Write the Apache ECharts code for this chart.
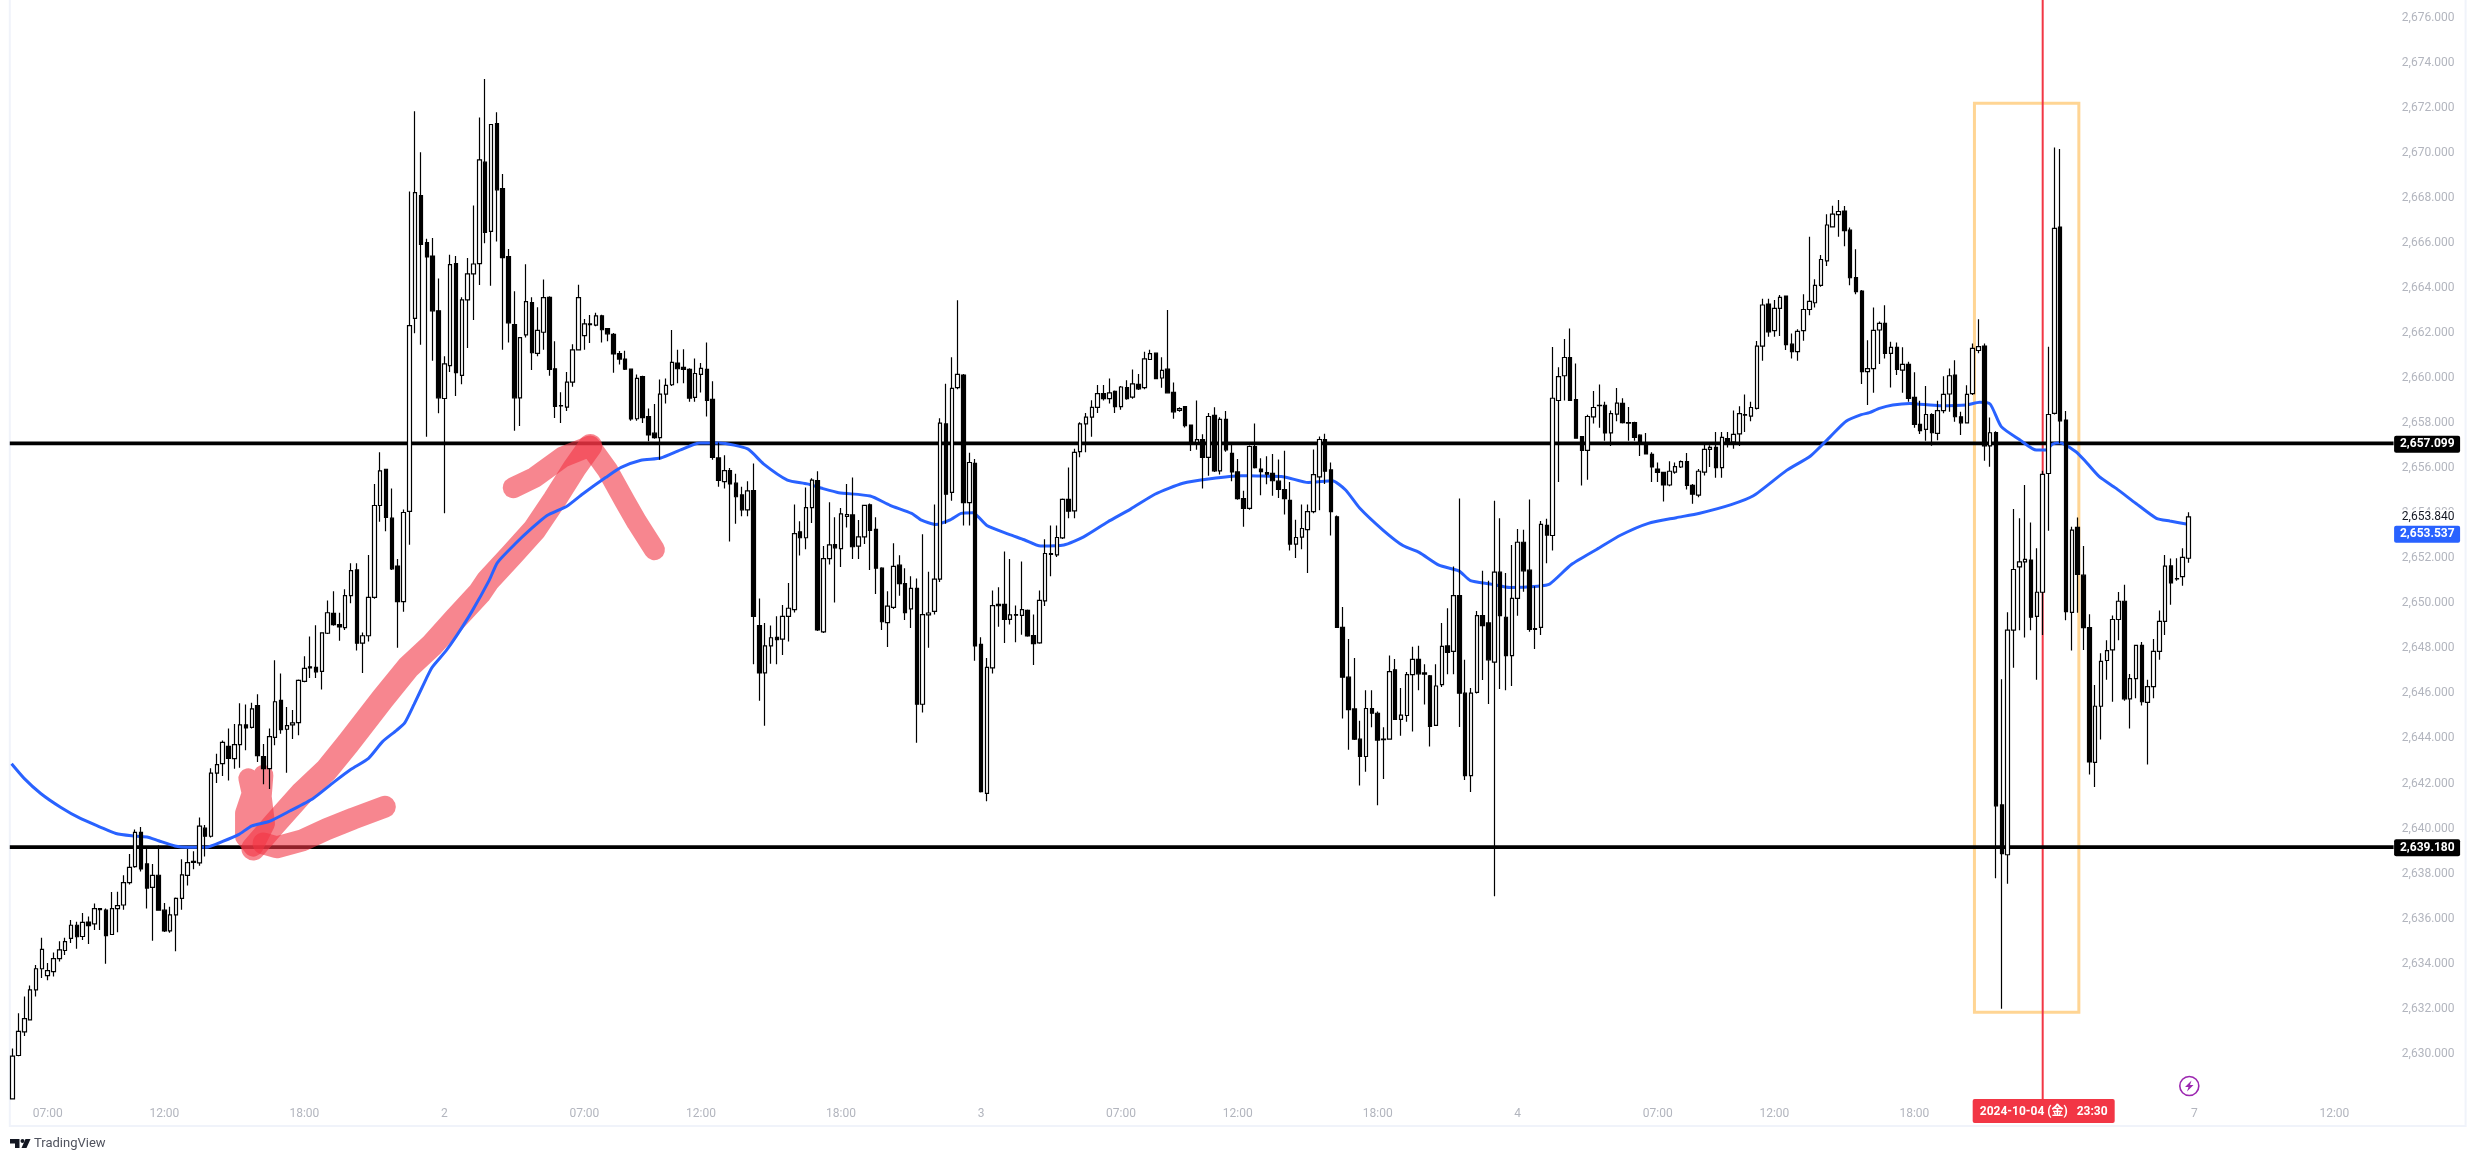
<!DOCTYPE html>
<html>
<head>
<meta charset="utf-8">
<style>
  html, body { margin: 0; padding: 0; background: #fff; }
  #chart { width: 2475px; height: 1162px; }
</style>
<script src="https://cdn.jsdelivr.net/npm/echarts@6/dist/echarts.min.js"></script>
</head>
<body>
<div id="chart"></div>
<script>
// 15 minute bars: [open, close, low, high]
var candles = [
  [2628.0,2629.9,2628.0,2630.24],[2629.93,2631.0,2629.9,2631.8],[2630.98,2631.57,2630.8,2632.55],[2631.51,2632.84,2631.5,2633.04],
  [2632.84,2633.78,2632.55,2633.95],[2633.78,2634.64,2633.37,2635.16],[2633.47,2633.7,2633.27,2634.03],[2633.65,2634.23,2633.44,2634.5],
  [2634.23,2634.62,2634.1,2635.0],[2634.59,2634.98,2634.39,2635.16],[2635.13,2635.71,2634.92,2635.94],[2635.71,2635.2,2634.67,2635.87],
  [2635.21,2635.84,2635.05,2636.25],[2635.85,2635.69,2634.88,2636.1],[2635.77,2636.45,2635.5,2636.67],[2636.45,2636.4,2635.5,2636.47],
  [2636.38,2635.25,2634.0,2636.45],[2635.3,2636.45,2635.3,2637.19],[2636.45,2636.58,2635.4,2637.2],[2636.61,2637.6,2636.4,2637.93],
  [2637.6,2638.28,2637.52,2638.87],[2638.31,2639.83,2638.26,2639.96],[2639.83,2638.21,2638.1,2640.07],[2638.43,2637.36,2636.45,2639.09],
  [2637.39,2637.92,2635.02,2638.43],[2637.93,2636.38,2636.37,2639.25],[2636.38,2635.46,2635.41,2636.7],[2635.46,2636.17,2635.38,2636.53],
  [2636.17,2636.9,2634.56,2636.94],[2636.9,2637.95,2636.4,2638.64],[2637.92,2638.49,2637.47,2639.09],[2638.5,2638.55,2638.2,2639.0],
  [2638.48,2640.11,2638.35,2640.49],[2640.02,2639.66,2638.76,2640.16],[2639.66,2642.46,2639.6,2642.68],[2642.46,2642.84,2642.02,2643.32],
  [2642.88,2643.83,2642.33,2643.91],[2643.65,2643.12,2642.13,2644.44],[2643.11,2643.73,2642.66,2644.64],[2643.73,2644.6,2642.7,2645.56],
  [2644.6,2644.47,2643.48,2645.51],[2644.49,2645.31,2644.44,2645.59],[2645.46,2643.24,2642.96,2645.96],[2643.2,2642.66,2641.97,2643.75],
  [2642.66,2644.08,2641.76,2644.44],[2644.05,2645.63,2643.7,2647.47],[2645.69,2644.39,2644.21,2646.88],[2644.41,2644.57,2642.48,2645.4],
  [2644.6,2644.69,2643.98,2645.26],[2644.7,2646.58,2644.14,2646.62],[2646.53,2647.11,2646.5,2647.65],[2647.18,2647.13,2646.68,2648.53],
  [2647.16,2646.96,2646.68,2649.02],[2646.98,2648.69,2646.17,2648.72],[2648.67,2649.58,2648.64,2650.12],[2649.55,2649.05,2649.0,2650.54],
  [2649.05,2648.95,2648.34,2649.58],[2648.92,2650.34,2648.81,2650.62],[2650.34,2651.45,2650.0,2651.78],[2651.48,2648.23,2647.9,2651.78],
  [2648.23,2648.56,2646.91,2648.7],[2648.56,2650.26,2648.3,2652.14],[2650.26,2654.34,2650.2,2655.29],[2654.34,2655.88,2653.62,2656.7],
  [2655.95,2653.81,2653.2,2655.95],[2653.78,2651.53,2651.48,2655.1],[2651.65,2650.07,2648.03,2651.97],[2650.07,2654.03,2649.63,2654.16],
  [2654.08,2662.32,2652.6,2668.28],[2662.65,2668.23,2661.99,2671.84],[2668.1,2665.93,2661.47,2670.02],[2666.01,2665.37,2657.39,2666.18],
  [2665.41,2662.98,2660.76,2666.21],[2662.98,2659.12,2658.43,2664.42],[2659.09,2660.63,2654.0,2660.97],[2660.55,2665.03,2660.27,2665.47],
  [2665.08,2660.24,2659.2,2665.41],[2660.12,2663.47,2659.72,2663.58],[2663.47,2664.62,2661.33,2665.33],[2664.62,2665.06,2662.57,2667.66],
  [2665.08,2669.68,2664.13,2671.56],[2669.58,2666.46,2665.98,2673.27],[2666.51,2671.25,2664.09,2671.25],[2671.29,2668.35,2666.06,2671.79],
  [2668.41,2665.34,2661.25,2669.05],[2665.39,2662.45,2661.58,2665.72],[2662.37,2659.12,2657.66,2663.85],[2659.12,2661.79,2657.87,2661.79],
  [2661.91,2663.39,2661.8,2665.05],[2663.35,2661.12,2660.35,2663.58],[2661.09,2662.11,2660.97,2663.14],[2662.03,2663.57,2661.25,2664.37],
  [2663.58,2660.38,2660.1,2663.63],[2660.41,2658.74,2658.22,2661.63],[2658.76,2658.78,2658.0,2659.37],[2658.71,2659.82,2658.54,2660.27],
  [2659.82,2661.25,2659.61,2661.5],[2661.25,2663.57,2661.25,2664.14],[2661.88,2662.4,2661.25,2662.62],[2662.37,2662.4,2661.55,2662.8],
  [2662.35,2662.76,2662.3,2662.9],[2662.76,2662.14,2661.58,2662.81],[2662.19,2661.96,2661.63,2662.2],[2661.94,2661.07,2660.23,2662.0],
  [2661.08,2660.84,2660.6,2661.2],[2660.84,2660.39,2660.35,2661.21],[2660.39,2658.18,2658.1,2660.4],[2658.19,2659.98,2658.1,2660.15],
  [2660.06,2658.24,2658.0,2660.1],[2658.29,2657.47,2657.19,2658.65],[2657.55,2657.35,2657.3,2658.85],[2657.35,2659.28,2656.37,2659.93],
  [2659.28,2659.67,2658.87,2659.98],[2659.7,2660.69,2659.65,2662.13],[2660.66,2660.41,2659.77,2661.25],[2660.47,2660.38,2659.77,2661.28],
  [2660.38,2659.11,2658.95,2660.43],[2659.14,2660.2,2658.95,2660.87],[2660.16,2660.43,2659.36,2660.67],[2660.38,2659.0,2658.29,2661.57],
  [2659.05,2656.48,2656.37,2659.85],[2656.45,2655.45,2655.17,2657.14],[2655.4,2655.89,2655.09,2656.57],[2655.89,2655.3,2652.74,2656.0],
  [2655.33,2654.73,2653.53,2655.75],[2654.81,2654.15,2653.86,2655.17],[2654.15,2654.99,2653.86,2655.42],[2655.0,2649.42,2647.29,2656.2],
  [2649.01,2646.91,2645.68,2650.21],[2646.91,2648.11,2644.56,2649.13],[2648.11,2648.47,2647.32,2649.01],[2648.49,2648.39,2647.29,2649.42],
  [2648.41,2649.42,2647.7,2649.92],[2649.42,2649.78,2648.3,2650.9],[2649.72,2653.09,2649.59,2654.38],[2653.17,2652.91,2652.12,2653.64],
  [2652.91,2654.25,2652.4,2655.14],[2654.25,2655.47,2653.56,2655.55],[2655.45,2648.82,2648.77,2655.86],[2648.73,2651.98,2648.68,2652.54],
  [2651.98,2652.59,2651.72,2654.48],[2652.61,2652.46,2650.03,2653.82],[2652.43,2653.97,2651.61,2654.23],[2653.86,2653.94,2653.36,2655.29],
  [2653.92,2652.51,2651.97,2655.58],[2652.54,2652.95,2651.97,2653.7],[2652.95,2654.35,2652.63,2654.35],[2654.37,2653.23,2651.48,2654.43],
  [2653.28,2651.56,2650.41,2653.82],[2651.56,2649.18,2648.82,2651.6],[2649.14,2649.87,2648.06,2650.54],[2649.82,2651.64,2649.75,2652.66],
  [2651.69,2650.87,2650.33,2652.13],[2650.87,2649.59,2649.26,2651.56],[2649.75,2650.66,2648.9,2651.2],[2650.66,2645.52,2643.81,2651.1],
  [2645.52,2649.5,2645.15,2653.07],[2649.49,2649.57,2648.03,2651.4],[2649.64,2651.07,2649.5,2654.38],[2651.07,2658.0,2650.95,2658.21],
  [2657.96,2654.84,2653.53,2659.74],[2654.92,2659.54,2654.55,2660.92],[2659.57,2660.16,2659.5,2663.45],[2660.13,2654.47,2653.45,2660.18],
  [2654.47,2656.25,2653.45,2656.68],[2656.21,2648.11,2647.45,2656.4],[2648.18,2641.64,2641.6,2648.49],[2641.56,2647.16,2641.21,2647.57],
  [2647.13,2649.9,2646.88,2650.57],[2649.95,2649.89,2648.96,2650.71],[2649.95,2649.29,2648.24,2652.3],[2649.29,2649.49,2649.06,2651.97],
  [2649.5,2649.47,2648.27,2649.9],[2649.46,2649.72,2648.6,2651.85],[2649.69,2648.55,2648.52,2649.72],[2648.57,2648.21,2647.26,2649.5],
  [2648.24,2650.13,2648.2,2650.57],[2650.11,2652.21,2649.88,2652.84],[2652.21,2652.17,2651.2,2653.45],[2652.15,2652.92,2652.05,2653.45],
  [2652.9,2654.61,2652.85,2654.65],[2654.61,2654.09,2653.77,2656.03],[2654.1,2656.7,2653.77,2656.86],[2656.73,2657.96,2656.48,2658.04],
  [2657.96,2658.26,2656.7,2658.45],[2658.26,2658.7,2657.39,2659.01],[2658.7,2659.31,2658.45,2659.69],[2659.31,2659.08,2659.0,2659.69],
  [2659.08,2659.34,2658.87,2659.98],[2659.41,2658.73,2658.45,2659.44],[2658.73,2659.6,2658.59,2659.65],[2659.57,2659.08,2659.03,2659.9],
  [2659.15,2659.74,2659.08,2660.38],[2659.72,2659.52,2659.47,2660.18],[2659.57,2660.85,2659.5,2661.17],[2660.82,2661.08,2660.8,2661.25],
  [2661.1,2659.97,2659.95,2661.12],[2660.0,2660.34,2659.57,2660.92],[2660.39,2659.34,2659.31,2663.02],[2659.36,2658.5,2658.19,2659.8],
  [2658.56,2658.64,2658.5,2658.7],[2658.73,2657.88,2657.8,2658.75],[2657.91,2657.14,2656.76,2657.94],[2657.14,2657.26,2656.81,2659.0],
  [2657.27,2656.48,2655.09,2657.5],[2656.48,2658.29,2655.66,2658.45],[2658.34,2655.88,2655.83,2658.7],[2655.88,2658.16,2655.72,2658.26],
  [2658.16,2656.81,2656.73,2658.54],[2656.65,2655.83,2655.42,2657.03],[2655.83,2654.65,2654.6,2656.4],[2654.65,2654.21,2653.4,2655.0],
  [2654.21,2656.96,2654.15,2657.0],[2656.96,2656.02,2655.98,2657.98],[2655.96,2655.84,2654.8,2656.44],[2655.8,2655.73,2655.28,2656.53],
  [2655.77,2655.44,2654.77,2656.63],[2655.42,2655.05,2654.67,2656.38],[2655.05,2654.65,2653.94,2656.77],[2654.57,2652.63,2652.34,2655.38],
  [2652.63,2652.92,2652.01,2653.71],[2652.94,2653.32,2652.4,2654.38],[2653.27,2654.07,2651.34,2654.38],[2654.07,2655.71,2654.0,2656.83],
  [2655.61,2657.27,2654.13,2657.4],[2657.27,2655.86,2655.3,2657.52],[2655.92,2654.07,2653.01,2656.25],[2653.84,2648.93,2648.9,2653.9],
  [2648.93,2646.72,2644.89,2649.84],[2646.72,2645.28,2643.5,2648.41],[2645.31,2643.97,2643.93,2647.57],[2643.97,2643.2,2641.91,2644.79],
  [2643.2,2645.33,2642.52,2646.14],[2645.33,2645.12,2644.5,2646.14],[2645.12,2643.93,2641.04,2645.2],[2643.97,2643.95,2642.2,2644.5],
  [2643.97,2646.97,2643.95,2647.68],[2647.05,2644.85,2644.83,2647.53],[2644.85,2645.04,2644.12,2646.24],[2645.02,2646.83,2644.74,2646.95],
  [2646.83,2647.51,2644.31,2648.07],[2647.51,2646.87,2646.14,2648.12],[2646.91,2646.86,2645.51,2647.3],[2646.78,2644.54,2643.64,2646.82],
  [2644.58,2646.33,2644.55,2647.3],[2646.39,2648.09,2646.28,2649.13],[2648.11,2647.82,2646.85,2649.78],[2647.87,2650.34,2646.85,2651.63],
  [2650.34,2646.01,2644.51,2654.65],[2646.01,2642.35,2642.16,2647.49],[2642.35,2646.01,2641.62,2646.24],[2646.05,2649.45,2646.0,2649.66],
  [2649.45,2649.01,2646.6,2651.44],[2649.13,2647.49,2645.53,2651.0],[2647.39,2651.38,2637.0,2654.55],[2651.38,2649.45,2646.2,2653.78],
  [2649.38,2647.68,2646.14,2651.34],[2647.68,2650.22,2646.33,2652.59],[2650.22,2652.71,2649.45,2653.3],[2652.71,2651.44,2650.51,2653.26],
  [2651.47,2648.84,2648.74,2654.61],[2648.88,2648.84,2647.97,2650.76],[2648.93,2653.5,2648.59,2653.65],[2653.46,2653.03,2651.78,2653.75],
  [2653.01,2659.1,2652.34,2661.37],[2659.0,2660.06,2655.38,2660.48],[2660.1,2660.91,2659.0,2661.73],[2660.91,2659.0,2658.98,2662.2],
  [2659.04,2657.33,2657.3,2660.64],[2657.4,2656.79,2655.23,2657.4],[2656.79,2658.29,2655.48,2658.37],[2658.27,2658.69,2657.98,2659.42],
  [2658.79,2658.77,2657.79,2659.71],[2658.79,2657.56,2657.21,2658.94],[2657.56,2658.42,2656.98,2658.56],[2658.4,2658.88,2658.08,2659.56],
  [2658.87,2658.02,2657.98,2659.1],[2658.02,2658.0,2657.21,2658.71],[2658.02,2657.36,2657.21,2658.06],[2657.46,2657.11,2656.54,2657.5],
  [2657.11,2656.63,2656.63,2657.56],[2656.61,2656.05,2655.38,2656.7],[2655.96,2655.81,2655.38,2656.25],[2655.81,2655.25,2654.52,2655.81],
  [2655.25,2655.86,2655.19,2656.3],[2655.82,2656.07,2655.75,2656.25],[2656.05,2656.29,2656.0,2656.34],[2656.29,2655.23,2655.05,2656.67],
  [2655.23,2654.84,2654.42,2655.29],[2654.8,2655.86,2654.71,2655.96],[2655.82,2656.83,2655.67,2657.06],[2656.83,2656.92,2656.05,2657.02],
  [2656.92,2656.02,2655.57,2657.6],[2656.02,2657.36,2655.57,2657.6],[2657.31,2657.11,2656.92,2657.6],[2657.17,2657.5,2656.86,2658.56],
  [2657.52,2658.42,2656.98,2658.75],[2658.35,2658.38,2657.6,2659.27],[2658.31,2658.69,2658.08,2658.94],[2658.65,2661.41,2658.6,2661.64],
  [2661.41,2663.24,2660.77,2663.52],[2663.28,2662.05,2661.83,2663.52],[2662.1,2663.09,2661.83,2663.46],[2663.09,2663.58,2661.86,2663.68],
  [2663.64,2661.48,2661.24,2663.64],[2661.5,2661.17,2660.87,2661.98],[2661.17,2662.07,2660.77,2662.16],[2662.1,2663.04,2661.65,2663.72],
  [2663.04,2663.4,2662.79,2666.27],[2663.34,2664.11,2663.13,2664.38],[2664.11,2665.26,2664.05,2665.46],[2665.2,2666.79,2664.97,2667.27],
  [2666.71,2667.27,2666.7,2667.64],[2667.25,2667.39,2666.27,2667.9],[2667.41,2666.54,2665.85,2667.63],[2666.56,2664.45,2664.12,2666.68],
  [2664.46,2663.83,2663.72,2665.71],[2663.86,2660.28,2659.73,2663.9],[2660.28,2660.42,2658.8,2661.68],[2660.42,2662.11,2659.34,2663.13],
  [2662.13,2662.42,2660.62,2662.51],[2662.42,2661.09,2660.87,2663.23],[2661.09,2661.36,2659.58,2661.61],[2661.36,2660.38,2660.13,2661.58],
  [2660.35,2660.6,2659.34,2661.36],[2660.6,2659.09,2658.94,2660.72],[2659.14,2657.94,2657.79,2660.25],[2657.94,2657.66,2657.51,2658.99],
  [2657.72,2658.38,2657.21,2659.64],[2658.38,2657.57,2656.99,2658.43],[2657.54,2658.55,2657.24,2658.99],[2658.55,2659.27,2658.43,2660.08],
  [2659.29,2660.1,2658.5,2660.42],[2660.13,2658.28,2658.06,2660.79],[2658.28,2658.01,2657.47,2658.5],[2658.01,2659.27,2657.98,2659.68],
  [2659.31,2661.31,2659.25,2661.53],[2661.22,2661.39,2661.1,2662.61],[2661.42,2656.99,2656.33,2661.53],[2656.99,2657.57,2656.06,2658.25],
  [2657.58,2641.01,2637.8,2657.64],[2641.05,2638.89,2632.0,2646.63],[2638.84,2648.81,2637.55,2649.6],[2648.81,2651.5,2647.14,2654.18],
  [2651.62,2651.84,2648.8,2653.77],[2651.84,2651.95,2648.48,2655.25],[2651.92,2649.38,2648.8,2653.59],[2649.42,2650.49,2646.61,2652.44],
  [2650.49,2655.72,2648.59,2655.88],[2655.76,2658.38,2653.22,2661.39],[2658.43,2666.64,2658.38,2670.23],[2666.7,2658.1,2657.1,2670.16],
  [2658.13,2649.63,2649.25,2658.53],[2649.6,2653.25,2647.9,2653.4],[2653.37,2651.28,2649.58,2653.81],[2651.25,2648.92,2647.93,2652.54],
  [2648.92,2642.96,2642.4,2649.51],[2642.94,2645.43,2641.85,2646.37],[2645.43,2647.42,2643.95,2647.78],[2647.46,2647.9,2646.61,2648.36],
  [2647.93,2649.28,2645.63,2649.46],[2649.28,2650.09,2648.36,2650.5],[2650.09,2645.76,2645.68,2650.82],[2645.76,2646.66,2644.44,2646.86],
  [2646.66,2648.13,2645.79,2648.15],[2648.13,2645.63,2645.46,2648.28],[2645.6,2646.3,2642.84,2646.61],[2646.3,2647.87,2645.79,2648.41],
  [2647.87,2649.2,2647.49,2649.68],[2649.2,2651.65,2648.59,2652.14],[2651.66,2650.9,2649.93,2651.99],[2651.1,2651.08,2651.0,2652.0],
  [2651.18,2652.04,2650.78,2652.44],[2652.0,2653.84,2651.8,2654.04]
]

// moving average, read at these bars
var maBars = [-0.2,2,4.8,8.2,11.6,15,17.7,20.4,23,25,27.8,29.9,33.2,36,38.7,41,44,47.5,51.5,55,58,61,63.4,65.8,67.2,68.8,70.9,71.9,74.3,76.3,78.7,81.7,
  83.1,86.1,88.8,91.6,95,97.7,101.7,104.3,107.7,111.1,114.5,117.8,121.2,126,128.7,132.8,136.2,138.9,141.6,147,150.4,154.1,155.8,158.2,160.6,162.6,164.6,167,170.7,173.4,176.2,180.2,183.6,187.7,191.7,195.8,200.6,205.3,210.6,
  213.3,218,222.1,226.2,228.5,230.9,235,238.4,241.1,244.5,247.9,249.9,253.3,256.7,261.4,263.5,267.2,271.6,275.7,280.4,285.2,289.2,294.6,298.4,304.1,308.2,311.6,314.3,316.9,
  318.3,320,322.3,325.2,330.3,334.9,337.2,339,340.9,344,346.9,348.5,349.7,350.9,353.7,355.4,357.7,360.6,364,367.5,369.8,372.6]
var maValues = [2642.88,2642.22,2641.56,2640.95,2640.45,2640.07,2639.78,2639.68,2639.63,2639.46,2639.23,2639.17,2639.17,2639.43,2639.73,2640.12,2640.32,2640.78,2641.34,2642.05,2642.63,2643.12,2643.86,2644.36,2644.69,2645.51,2646.66,2647.16,2647.9,2648.64,2649.63,2651.03,
  2651.81,2652.63,2653.29,2653.9,2654.31,2654.85,2655.59,2656.03,2656.35,2656.45,2656.81,2657.11,2657.11,2656.85,2656.19,2655.47,2655.3,2655.09,2654.91,2654.76,2654.35,2653.99,2653.69,2653.5,2653.69,2653.99,2654.02,2653.45,2653.07,2652.82,2652.54,2652.59,2652.95,2653.61,2654.19,2654.84,2655.33,2655.53,2655.66,
  2655.65,2655.61,2655.36,2655.44,2655.03,2654.23,2653.23,2652.55,2652.26,2651.69,2651.44,2651.01,2650.86,2650.7,2650.76,2650.86,2651.72,2652.4,2653.03,2653.55,2653.8,2654.0,2654.38,2654.77,2655.9,2656.54,2657.4,2658.08,2658.37,
  2658.46,2658.65,2658.8,2658.87,2658.77,2658.8,2658.92,2658.84,2657.84,2657.27,2656.8,2656.8,2657.07,2657.13,2656.73,2656.28,2655.62,2655.1,2654.43,2653.77,2653.65,2653.52]

// axis ticks
var barCount = 421
var tickBars = [6,26,50,74,98,118,142,166,190,210,234,258,282,302,326,374,398]
var tickLabels = ['07:00','12:00','18:00','2','07:00','12:00','18:00','3','07:00','12:00','18:00','4','07:00','12:00','18:00','7','12:00']
var priceTicks = [2630,2632,2634,2636,2638,2640,2642,2644,2646,2648,2650,2652,2654,2656,2658,2660,2662,2664,2666,2668,2670,2672,2674,2676]

// drawings on the chart, as [bar, price]
var levels = [2657.099, 2639.18]
var lastClose = 2653.84
var lastMa = 2653.537
var cursorBar = 348
var cursorLabel = '2024-10-04 (金)   23:30'
var boxCorners = [[336.3, 2672.19], [354.2, 2631.85]]
var brushMain = [[41.25,2639.12],[44.97,2640.23],[49.54,2641.56],[53.8,2642.6],[57.5,2643.78],[63.4,2645.76],[67.8,2647.16],[71.9,2648.15],[75.9,2649.3],[80,2650.45],[81.5,2651.02],[85.5,2652.14],[89.5,2653.29],[92.9,2654.6],[96.3,2656.0],[99,2656.98]]
var brushHead = [[85.8,2655.13],[89.5,2655.59],[94.3,2656.49],[99,2656.98],[102,2655.9],[105,2654.5],[107,2653.6],[110,2652.38]]
var brushBlob = [[42.97,2642.38],[42.68,2641.42],[43.25,2640.23],[41.25,2639.2],[39.83,2639.64],[39.83,2640.68],[40.97,2641.56],[40.4,2642.23]]
var brushTail = [[63.8,2640.97],[58.4,2640.45],[53.8,2639.97],[49.8,2639.49],[45.25,2639.17],[43,2639.34]]

var FONT = 'Roboto, "Noto Sans CJK JP", sans-serif'
var RED = '#F23645'
var BLUE = '#2962FF'
var PRICE_RIGHT = 11   // price text ends this far from the right border

function money(v) {
  return v.toLocaleString('en-US', { minimumFractionDigits: 3, maximumFractionDigits: 3 })
}

// one drawing on the hidden value x axis, so bars can be fractional
function drawing(z, draw) {
  return {
    type: 'custom',
    xAxisIndex: 1,
    yAxisIndex: 0,
    z: z,
    silent: true,
    clip: false,
    data: [[0, 2650]],
    renderItem: draw,
  }
}

function brush(points, width) {
  return drawing(3, function (params, api) {
    return {
      type: 'polyline',
      shape: { points: points.map(function (p) { return api.coord(p) }) },
      style: { fill: 'none', stroke: 'rgba(242,54,69,0.6)', lineWidth: width, lineCap: 'round', lineJoin: 'round' },
    }
  })
}

function priceTag(coordSys, y, text, bg, color) {
  var right = coordSys.x + coordSys.width
  var children = []
  if (bg) {
    children.push({
      type: 'rect',
      shape: { x: right - 71.5, y: y - 8.5, width: 66, height: 17, r: 2 },
      style: { fill: bg },
    })
  }
  children.push({
    type: 'text',
    style: { x: right - PRICE_RIGHT, y: y, text: text, fill: color, font: (bg ? 'bold ' : '') + '12px ' + FONT, align: 'right', verticalAlign: 'middle' },
  })
  return children
}

var chart = echarts.init(document.getElementById('chart'))

chart.setOption({
  animation: false,
  backgroundColor: '#fff',
  grid: { left: 9.8, right: 9.4, top: -3, bottom: 36, outerBoundsMode: 'none', show: true, backgroundColor: '#fff', borderColor: '#F0F3FA', borderWidth: 2 },
  xAxis: [
    {
      type: 'category',
      data: Array.from({ length: barCount }, function (_, i) { return String(i) }),
      axisLine: { show: false },
      axisTick: { show: false },
      splitLine: { show: false },
      axisLabel: {
        inside: true,
        margin: 6,
        color: '#B2B5BE',
        fontSize: 12,
        fontFamily: FONT,
        hideOverlap: false,
        interval: function (i) { return tickBars.indexOf(i) >= 0 },
        formatter: function (v, i) { return tickLabels[tickBars.indexOf(i)] },
      },
    },
    { type: 'value', show: false, min: -0.5, max: barCount - 0.5 },
  ],
  yAxis: {
    type: 'value',
    position: 'right',
    min: 2626.8,
    max: 2676.91,
    axisLine: { show: false },
    axisTick: { show: false },
    splitLine: { show: false },
    axisLabel: {
      inside: true,
      margin: PRICE_RIGHT,
      color: '#B2B5BE',
      fontSize: 12,
      fontFamily: FONT,
      customValues: priceTicks,
      formatter: money,
    },
  },
  series: [
    // orange box and red cursor sit under everything
    drawing(1, function (params, api) {
      var a = api.coord(boxCorners[0])
      var b = api.coord(boxCorners[1])
      return {
        type: 'rect',
        shape: { x: a[0], y: a[1], width: b[0] - a[0], height: b[1] - a[1] },
        style: { fill: 'none', stroke: '#FFD594', lineWidth: 3 },
      }
    }),
    drawing(1, function (params, api) {
      var x = api.coord([cursorBar, 2650])[0]
      return {
        type: 'line',
        shape: { x1: x, y1: 0, x2: x, y2: 1100 },
        style: { stroke: RED, lineWidth: 2 },
      }
    }),
    // horizontal levels
    drawing(2, function (params, api) {
      var left = params.coordSys.x
      var right = left + params.coordSys.width - 72
      return {
        type: 'group',
        children: levels.map(function (v) {
          var y = api.coord([0, v])[1]
          return { type: 'line', shape: { x1: left, y1: y, x2: right, y2: y }, style: { stroke: '#000', lineWidth: 3.7 } }
        }),
      }
    }),
    brush(brushMain, 24),
    brush(brushHead, 21),
    brush(brushBlob, 20),
    brush(brushTail, 22),
    {
      type: 'line',
      xAxisIndex: 1,
      z: 4,
      silent: true,
      symbol: 'none',
      smooth: 0.2,
      lineStyle: { color: BLUE, width: 3 },
      data: maBars.map(function (b, i) { return [b, maValues[i]] }),
    },
    {
      type: 'candlestick',
      xAxisIndex: 0,
      z: 5,
      silent: true,
      barWidth: 4,
      itemStyle: { color: '#fff', color0: '#000', borderColor: '#000', borderColor0: '#000', borderWidth: 1.2 },
      data: candles,
    },
    // price tags
    drawing(6, function (params, api) {
      var cs = params.coordSys
      var children = []
      levels.forEach(function (v) {
        children = children.concat(priceTag(cs, api.coord([0, v])[1] + 0.8, money(v), '#000', '#fff'))
      })
      var closeY = api.coord([0, lastClose])[1]
      children.push({
        type: 'rect',
        shape: { x: cs.x + cs.width - 71.5, y: closeY - 7, width: 66, height: 14 },
        style: { fill: '#fff' },
      })
      children = children.concat(priceTag(cs, closeY, money(lastClose), null, '#131722'))
      children = children.concat(priceTag(cs, api.coord([0, lastMa])[1] + 10.7, money(lastMa), BLUE, '#fff'))
      return { type: 'group', children: children }
    }),
    // cursor time tag
    drawing(6, function (params, api) {
      var x = api.coord([cursorBar, 2650])[0]
      return {
        type: 'group',
        children: [
          { type: 'rect', shape: { x: x - 70, y: 1099, width: 142, height: 24, r: 2 }, style: { fill: RED } },
          { type: 'text', style: { x: x + 1, y: 1111.5, text: cursorLabel, fill: '#fff', font: 'bold 12px ' + FONT, align: 'center', verticalAlign: 'middle' } },
        ],
      }
    }),
  ],
  graphic: [
    // lightning badge
    { type: 'circle', shape: { cx: 2189.3, cy: 1086, r: 9.5 }, style: { fill: '#fff', stroke: '#9C27B0', lineWidth: 1.6 }, z: 10 },
    { type: 'polygon', shape: { points: [[2191.5,1080.5],[2185,1087],[2188.5,1087],[2187,1091.5],[2193.5,1085],[2190,1085]] }, style: { fill: '#9C27B0' }, z: 10 },
    // TradingView mark
    { type: 'polygon', shape: { points: [[10,1139],[19.5,1139],[19.5,1148],[15,1148],[15,1143.5],[10,1143.5]] }, style: { fill: '#131722' } },
    { type: 'circle', shape: { cx: 22.5, cy: 1141, r: 2 }, style: { fill: '#131722' } },
    { type: 'polygon', shape: { points: [[25.5,1139],[30.5,1139],[26.5,1148],[21.5,1148]] }, style: { fill: '#131722' } },
    { type: 'text', left: 34, top: 1137, style: { text: 'TradingView', fill: '#50535E', font: '13px ' + FONT } },
  ],
})

window.addEventListener('resize', function () {
  chart.resize()
})
</script>
</body>
</html>
